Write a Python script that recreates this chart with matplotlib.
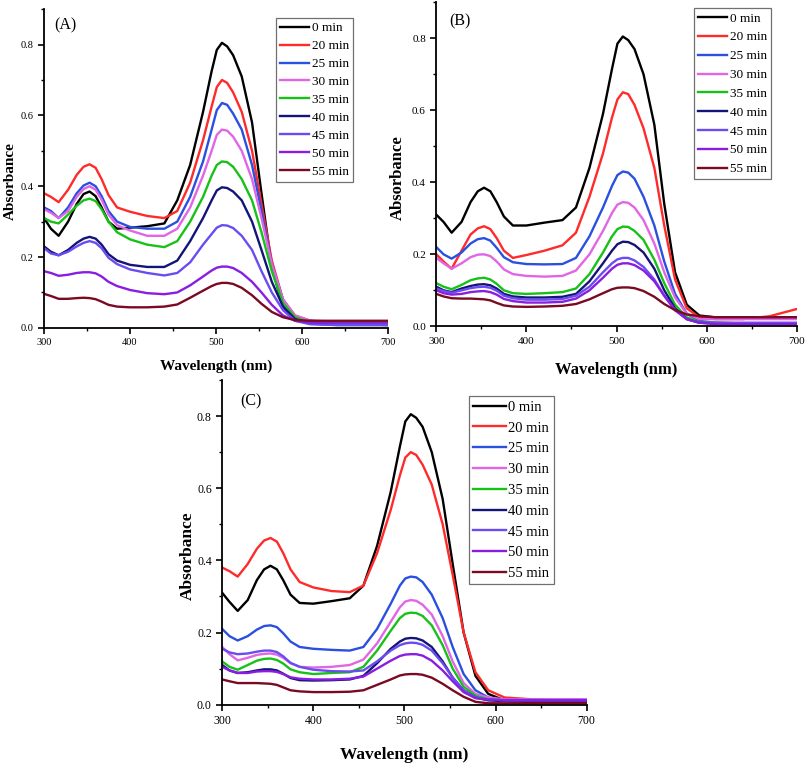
import matplotlib
matplotlib.use("Agg")
import matplotlib.pyplot as plt
from matplotlib.ticker import MultipleLocator, FormatStrFormatter

plt.rcParams['font.family'] = ['Liberation Serif', 'DejaVu Serif']

wl = [300, 308, 317, 328, 338, 346, 353, 360, 367, 375, 385, 400, 420, 440, 455, 470,
      485, 495, 501, 507, 513, 520, 530, 542, 553, 565, 578, 592, 610, 640, 670, 700]

times = ['0 min', '20 min', '25 min', '30 min', '35 min',
         '40 min', '45 min', '50 min', '55 min']
colors = ['#000000', '#ff2a2a', '#2a50e0', '#e066e6', '#17c117',
          '#141478', '#6a4cf0', '#8a1ee0', '#7a0a22']

# panel (A)
abs_a = [
    [0.31, 0.28, 0.26, 0.30, 0.35, 0.378, 0.385, 0.372, 0.34, 0.30, 0.28, 0.283, 0.287, 0.295, 0.36, 0.46,
     0.61, 0.725, 0.785, 0.805, 0.795, 0.77, 0.71, 0.58, 0.38, 0.17, 0.06, 0.025, 0.02, 0.012, 0.01, 0.008],
    [0.38, 0.37, 0.355, 0.39, 0.432, 0.455, 0.462, 0.452, 0.42, 0.375, 0.34, 0.328, 0.316, 0.31, 0.33, 0.41,
     0.53, 0.625, 0.68, 0.70, 0.692, 0.665, 0.61, 0.50, 0.35, 0.19, 0.08, 0.035, 0.02, 0.017, 0.017, 0.017],
    [0.34, 0.33, 0.31, 0.34, 0.38, 0.402, 0.41, 0.40, 0.372, 0.33, 0.30, 0.285, 0.28, 0.28, 0.30, 0.37,
     0.47, 0.56, 0.615, 0.635, 0.63, 0.605, 0.56, 0.46, 0.33, 0.18, 0.08, 0.03, 0.015, 0.012, 0.012, 0.012],
    [0.335, 0.325, 0.31, 0.33, 0.37, 0.392, 0.40, 0.39, 0.362, 0.32, 0.29, 0.275, 0.26, 0.26, 0.28, 0.34,
     0.43, 0.50, 0.545, 0.56, 0.557, 0.54, 0.50, 0.42, 0.31, 0.18, 0.08, 0.035, 0.02, 0.018, 0.018, 0.018],
    [0.31, 0.30, 0.295, 0.32, 0.345, 0.36, 0.365, 0.358, 0.335, 0.30, 0.27, 0.25, 0.235, 0.228, 0.245, 0.30,
     0.37, 0.43, 0.46, 0.47, 0.468, 0.455, 0.42, 0.36, 0.27, 0.16, 0.07, 0.03, 0.015, 0.012, 0.012, 0.012],
    [0.23, 0.215, 0.205, 0.22, 0.24, 0.252, 0.257, 0.252, 0.235, 0.208, 0.19, 0.178, 0.172, 0.172, 0.19, 0.245,
     0.31, 0.36, 0.388, 0.397, 0.395, 0.385, 0.36, 0.30, 0.22, 0.13, 0.06, 0.025, 0.012, 0.008, 0.008, 0.008],
    [0.225, 0.21, 0.205, 0.215, 0.23, 0.24, 0.245, 0.24, 0.225, 0.198, 0.18, 0.165, 0.155, 0.148, 0.155, 0.185,
     0.235, 0.265, 0.283, 0.29, 0.289, 0.282, 0.26, 0.22, 0.16, 0.10, 0.05, 0.02, 0.01, 0.008, 0.008, 0.008],
    [0.16, 0.155, 0.147, 0.15, 0.155, 0.157, 0.157, 0.154, 0.145, 0.13, 0.118, 0.107, 0.098, 0.095, 0.10, 0.12,
     0.145, 0.162, 0.17, 0.173, 0.173, 0.169, 0.155, 0.13, 0.10, 0.065, 0.035, 0.02, 0.015, 0.015, 0.015, 0.015],
    [0.096, 0.09, 0.082, 0.082, 0.084, 0.085, 0.084, 0.081, 0.074, 0.065, 0.06, 0.058, 0.058, 0.06, 0.066, 0.085,
     0.105, 0.118, 0.124, 0.127, 0.127, 0.124, 0.113, 0.092, 0.068, 0.045, 0.03, 0.022, 0.02, 0.02, 0.02, 0.02],
]

# panel (B)
abs_b = [
    [0.31, 0.29, 0.26, 0.29, 0.345, 0.375, 0.385, 0.375, 0.345, 0.305, 0.28, 0.28, 0.288, 0.295, 0.33, 0.44,
     0.59, 0.715, 0.785, 0.805, 0.795, 0.77, 0.70, 0.56, 0.34, 0.15, 0.06, 0.03, 0.025, 0.025, 0.025, 0.025],
    [0.20, 0.18, 0.16, 0.21, 0.255, 0.272, 0.278, 0.27, 0.245, 0.21, 0.19, 0.198, 0.21, 0.225, 0.26, 0.36,
     0.48, 0.58, 0.63, 0.65, 0.645, 0.615, 0.55, 0.44, 0.28, 0.13, 0.05, 0.025, 0.02, 0.02, 0.028, 0.048],
    [0.22, 0.20, 0.188, 0.205, 0.23, 0.242, 0.245, 0.238, 0.218, 0.192, 0.178, 0.173, 0.172, 0.173, 0.19, 0.25,
     0.33, 0.39, 0.42, 0.43, 0.427, 0.41, 0.36, 0.28, 0.18, 0.09, 0.035, 0.015, 0.01, 0.008, 0.008, 0.008],
    [0.19, 0.175, 0.16, 0.175, 0.192, 0.199, 0.20, 0.195, 0.18, 0.158, 0.145, 0.14, 0.138, 0.14, 0.155, 0.20,
     0.265, 0.315, 0.338, 0.345, 0.343, 0.33, 0.295, 0.23, 0.15, 0.08, 0.035, 0.02, 0.02, 0.02, 0.02, 0.02],
    [0.12, 0.11, 0.103, 0.115, 0.128, 0.133, 0.135, 0.13, 0.118, 0.10, 0.092, 0.09, 0.092, 0.095, 0.105, 0.145,
     0.205, 0.25, 0.27, 0.277, 0.276, 0.265, 0.24, 0.185, 0.12, 0.06, 0.025, 0.012, 0.01, 0.008, 0.008, 0.008],
    [0.11, 0.10, 0.095, 0.105, 0.112, 0.116, 0.117, 0.114, 0.105, 0.09, 0.083, 0.08, 0.08, 0.082, 0.09, 0.125,
     0.175, 0.21, 0.228, 0.235, 0.234, 0.226, 0.205, 0.16, 0.10, 0.05, 0.02, 0.01, 0.008, 0.008, 0.008, 0.008],
    [0.105, 0.098, 0.093, 0.10, 0.106, 0.109, 0.11, 0.107, 0.099, 0.085, 0.078, 0.074, 0.074, 0.076, 0.085, 0.11,
     0.15, 0.175, 0.186, 0.19, 0.19, 0.183, 0.165, 0.13, 0.085, 0.045, 0.02, 0.01, 0.01, 0.01, 0.01, 0.01],
    [0.10, 0.092, 0.088, 0.09, 0.095, 0.097, 0.098, 0.095, 0.088, 0.076, 0.07, 0.066, 0.066, 0.068, 0.077, 0.10,
     0.135, 0.16, 0.171, 0.175, 0.175, 0.17, 0.155, 0.125, 0.085, 0.045, 0.02, 0.01, 0.006, 0.006, 0.006, 0.006],
    [0.09, 0.083, 0.078, 0.077, 0.077, 0.076, 0.075, 0.072, 0.065, 0.058, 0.055, 0.054, 0.055, 0.057, 0.062, 0.075,
     0.092, 0.103, 0.107, 0.108, 0.108, 0.106, 0.098, 0.082, 0.062, 0.045, 0.033, 0.028, 0.025, 0.025, 0.025, 0.025],
]

# panel (C)
abs_c = [
    [0.31, 0.285, 0.26, 0.29, 0.345, 0.375, 0.385, 0.375, 0.345, 0.305, 0.282, 0.28, 0.287, 0.295, 0.33, 0.44,
     0.59, 0.715, 0.785, 0.805, 0.795, 0.77, 0.70, 0.57, 0.39, 0.20, 0.08, 0.03, 0.012, 0.008, 0.006, 0.006],
    [0.38, 0.37, 0.355, 0.39, 0.432, 0.455, 0.462, 0.452, 0.42, 0.375, 0.34, 0.325, 0.315, 0.312, 0.33, 0.42,
     0.54, 0.635, 0.685, 0.70, 0.692, 0.665, 0.61, 0.50, 0.36, 0.20, 0.09, 0.04, 0.02, 0.015, 0.012, 0.01],
    [0.21, 0.19, 0.178, 0.19, 0.208, 0.218, 0.22, 0.215, 0.198, 0.175, 0.16, 0.155, 0.152, 0.15, 0.16, 0.21,
     0.28, 0.33, 0.35, 0.355, 0.353, 0.34, 0.305, 0.24, 0.16, 0.085, 0.04, 0.02, 0.012, 0.01, 0.01, 0.01],
    [0.16, 0.14, 0.123, 0.13, 0.138, 0.141, 0.142, 0.139, 0.13, 0.115, 0.105, 0.103, 0.105, 0.11, 0.125, 0.17,
     0.23, 0.27, 0.286, 0.29, 0.288, 0.277, 0.25, 0.19, 0.12, 0.06, 0.03, 0.02, 0.015, 0.015, 0.015, 0.015],
    [0.12, 0.105, 0.097, 0.11, 0.122, 0.127, 0.128, 0.124, 0.114, 0.098, 0.09, 0.085, 0.088, 0.09, 0.105, 0.15,
     0.205, 0.24, 0.252, 0.255, 0.254, 0.246, 0.22, 0.165, 0.10, 0.05, 0.025, 0.015, 0.012, 0.012, 0.012, 0.012],
    [0.11, 0.095, 0.088, 0.09, 0.095, 0.098, 0.098, 0.095, 0.086, 0.074, 0.068, 0.067, 0.068, 0.07, 0.08, 0.115,
     0.155, 0.175, 0.183, 0.185, 0.184, 0.178, 0.16, 0.12, 0.075, 0.04, 0.02, 0.012, 0.01, 0.008, 0.008, 0.008],
    [0.155, 0.145, 0.14, 0.142, 0.147, 0.15, 0.15, 0.146, 0.134, 0.116, 0.105, 0.097, 0.093, 0.092, 0.095, 0.12,
     0.15, 0.165, 0.17, 0.172, 0.171, 0.166, 0.15, 0.115, 0.075, 0.04, 0.02, 0.015, 0.012, 0.012, 0.012, 0.012],
    [0.105, 0.095, 0.088, 0.088, 0.092, 0.093, 0.093, 0.091, 0.085, 0.076, 0.072, 0.07, 0.07, 0.072, 0.078, 0.10,
     0.122, 0.135, 0.139, 0.14, 0.14, 0.136, 0.122, 0.095, 0.065, 0.035, 0.018, 0.014, 0.013, 0.013, 0.013, 0.013],
    [0.07, 0.065, 0.06, 0.06, 0.06, 0.059, 0.058, 0.055, 0.048, 0.04, 0.037, 0.035, 0.035, 0.036, 0.04, 0.055,
     0.07, 0.081, 0.084, 0.085, 0.085, 0.083, 0.075, 0.058, 0.04, 0.022, 0.008, 0.004, 0.004, 0.004, 0.004, 0.004],
]

fig = plt.figure(figsize=(8.08, 7.66), dpi=100)

#   per panel: data, letter, axes rect, letter pos, legend anchor, legend font,
#   label font, tick font, legend row spacing, xlabel y, ylabel x
panels = [
    (abs_a, '(A)', [0.0545, 0.572, 0.4255, 0.416], (0.03, 0.95), (0.898, 0.972), 9.5, 11, 7.5, 0.43, -0.119, -0.099),
    (abs_b, '(B)', [0.540, 0.574, 0.446, 0.423], (0.035, 0.94), (0.928, 0.981), 9.5, 12, 8, 0.50, -0.136, -0.108),
    (abs_c, '(C)', [0.275, 0.080, 0.451, 0.424], (0.05, 0.935), (0.91, 0.95), 10.5, 12.5, 8.5, 0.52, -0.154, -0.093),
]

for data, letter, rect, lpos, anchor, legfs, labfs, tickfs, lsp, xly, ylx in panels:
    ax = fig.add_axes(rect)
    for vals, lab, col in zip(data, times, colors):
        ax.plot(wl, vals, color=col, lw=1.7, label=lab)
    ax.set_xlim(300, 700)
    ax.set_ylim(0, 0.9)
    ax.xaxis.set_major_locator(MultipleLocator(100))
    ax.xaxis.set_minor_locator(MultipleLocator(50))
    ax.yaxis.set_major_locator(MultipleLocator(0.2))
    ax.yaxis.set_minor_locator(MultipleLocator(0.1))
    ax.yaxis.set_major_formatter(FormatStrFormatter('%.1f'))
    ax.spines['top'].set_visible(False)
    ax.spines['right'].set_visible(False)
    ax.spines['left'].set_linewidth(1.3)
    ax.spines['bottom'].set_linewidth(1.3)
    ax.tick_params(which='major', direction='out', length=4, width=1.2, labelsize=tickfs)
    ax.tick_params(which='minor', direction='out', length=2.5, width=1.0)
    ax.set_xlabel('Wavelength (nm)', fontsize=labfs, fontweight='bold')
    ax.set_ylabel('Absorbance', fontsize=labfs, fontweight='bold')
    ax.xaxis.set_label_coords(0.5, xly)
    ax.xaxis.label.set_verticalalignment('center')
    ax.yaxis.set_label_coords(ylx, 0.46)
    ax.yaxis.label.set_verticalalignment('center')
    ax.text(lpos[0], lpos[1], letter, transform=ax.transAxes, fontsize=11.5, va='center')
    leg = ax.legend(loc='upper right', bbox_to_anchor=anchor, borderaxespad=0,
                    fontsize=legfs, frameon=True, fancybox=False, framealpha=1,
                    edgecolor='#707070', handlelength=2.2, handletextpad=0.2,
                    labelspacing=lsp, borderpad=0.3)
    leg.get_frame().set_linewidth(0.9)

fig.savefig('out.png', dpi=100)
